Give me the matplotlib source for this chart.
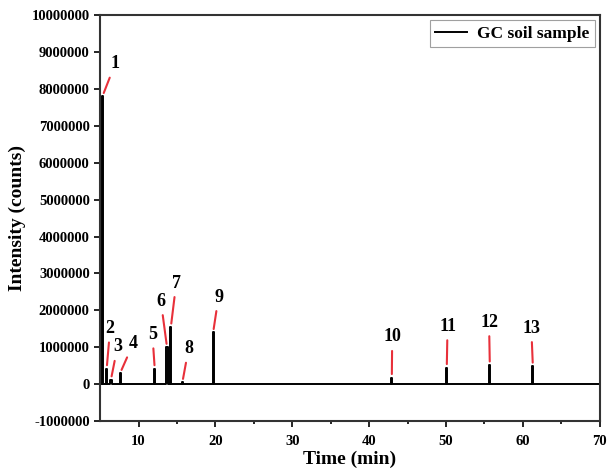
import matplotlib.pyplot as plt
import numpy as np

plt.rcParams['font.family'] = ['Liberation Serif', 'DejaVu Serif']
plt.rcParams['font.weight'] = 'bold'
plt.rcParams['axes.unicode_minus'] = False

# GC peaks: retention time (min), intensity (counts)
peak_ids = ['1', '2', '3', '4', '5', '6', '7', '8', '9', '10', '11', '12', '13']
peak_times = [5.3, 5.85, 6.4, 7.6, 12.1, 13.7, 14.2, 15.7, 19.7, 42.95, 50.1, 55.7, 61.3]
peak_heights = [7.8e6, 0.42e6, 0.12e6, 0.3e6, 0.42e6, 1.0e6, 1.55e6, 0.05e6,
                1.4e6, 0.18e6, 0.45e6, 0.52e6, 0.49e6]
# where the numbers sit
label_x = [6.95, 6.3, 7.25, 9.3, 11.8, 12.9, 14.9, 16.5, 20.4, 43.0, 50.2, 55.6, 61.1]
label_y = [8.68e6, 1.51e6, 1.01e6, 1.1e6, 1.35e6, 2.25e6, 2.74e6, 0.96e6,
           2.36e6, 1.28e6, 1.57e6, 1.68e6, 1.52e6]

# build the trace: flat baseline with narrow peaks
w = 0.08
tx = [5.0]
ty = [0.0]
for t, h in zip(peak_times, peak_heights):
    tx += [t - w, t - w, t + w, t + w]
    ty += [0, h, h, 0]
tx.append(70.0)
ty.append(0.0)

fig, ax = plt.subplots(figsize=(6.07, 4.71), dpi=100)
fig.subplots_adjust(left=0.165, right=0.988, top=0.968, bottom=0.106)

ax.plot(tx, ty, color='black', lw=1.4, label='GC soil sample')

for lab, t, h, lx, ly in zip(peak_ids, peak_times, peak_heights, label_x, label_y):
    ax.annotate(lab, xy=(t, h), xytext=(lx, ly), ha='center', va='center',
                fontsize=13, fontweight='bold',
                arrowprops=dict(arrowstyle='-', color='#e8303a', lw=1.5,
                                shrinkA=2, shrinkB=2.5))

ax.set_xlim(5, 70)
ax.set_ylim(-1e6, 1e7)
ax.set_xticks(np.arange(10, 71, 10))
ax.set_xticks(np.arange(15, 70, 10), minor=True)
ax.set_yticks(np.arange(-1e6, 1.01e7, 1e6))
ax.ticklabel_format(axis='y', style='plain')
ax.tick_params(axis='both', which='major', direction='out', length=4, width=1.2,
               labelsize=10.5)
ax.tick_params(axis='x', which='major', pad=6)
ax.tick_params(axis='x', which='minor', direction='out', length=2.5, width=1.2)

for s in ax.spines.values():
    s.set_linewidth(1.5)
    s.set_color('#333333')

ax.set_xlabel('Time (min)', fontsize=14, fontweight='bold', labelpad=2)
ax.set_ylabel('Intensity (counts)', fontsize=14, fontweight='bold', labelpad=4)

leg = ax.legend(loc='upper right', fontsize=12.5, fancybox=False, edgecolor='#888888',
                handlelength=1.8, handletextpad=0.6, borderaxespad=0.3, borderpad=0.3)
leg.get_frame().set_linewidth(0.8)

fig.savefig('out.png', dpi=100)
